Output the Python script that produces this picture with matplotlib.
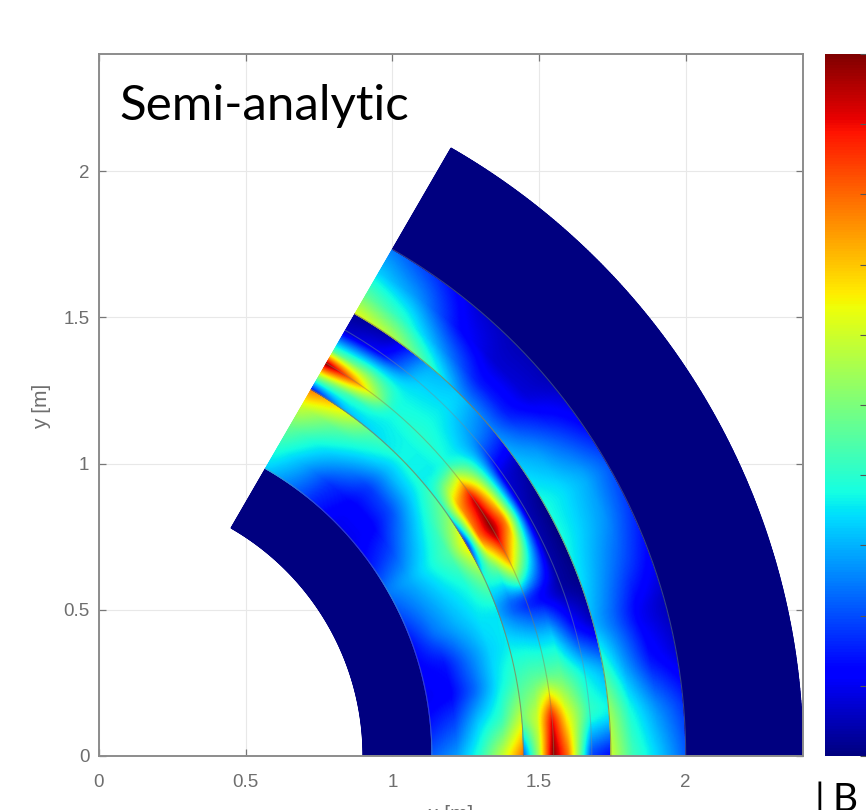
import matplotlib
matplotlib.use('Agg')
import matplotlib.pyplot as plt
import numpy as np

W, H = 866, 810

# field, as a fraction of the colour scale
radius = [1.135, 1.22, 1.30, 1.38, 1.447, 1.4475, 1.50, 1.55, 1.60, 1.68, 1.745, 1.7455, 1.82, 1.91, 2.0]
angle = [0, 5, 10, 15, 20, 25, 30, 35, 40, 45, 50, 55, 60]
field = [
    [.22, .28, .40, .60, .80, .20, .55, 1.0, .80, .18, .12, .60, .43, .33, .22],
    [.15, .20, .33, .42, .60, .50, .60, .90, .65, .42, .38, .55, .38, .27, .18],
    [.10, .12, .22, .35, .43, .43, .46, .47, .47, .36, .30, .42, .28, .14, .08],
    [.12, .14, .24, .33, .36, .36, .35, .33, .33, .14, .06, .30, .22, .10, .05],
    [.14, .24, .30, .35, .35, .28, .20, .14, .10, .03, .01, .35, .28, .20, .12],
    [.20, .27, .33, .38, .50, .40, .45, .70, .45, .04, .00, .38, .33, .27, .18],
    [.25, .30, .37, .45, .68, .12, .80, 1.0, .80, .05, .01, .38, .35, .30, .22],
    [.15, .20, .30, .40, .50, .40, .75, .92, .62, .08, .05, .32, .28, .20, .12],
    [.10, .12, .20, .32, .40, .36, .36, .38, .35, .26, .22, .25, .15, .08, .05],
    [.10, .12, .18, .30, .38, .37, .37, .40, .38, .35, .33, .27, .15, .07, .05],
    [.16, .18, .28, .38, .45, .34, .36, .38, .37, .33, .30, .42, .27, .13, .08],
    [.25, .30, .37, .47, .65, .30, .42, .72, .50, .12, .05, .57, .40, .27, .18],
    [.33, .40, .48, .60, .78, .12, .55, 1.0, .45, .06, .02, .63, .47, .33, .25],
]
interfaces = [1.135, 1.447, 1.55, 1.68, 1.745, 2.0]
xtick_vals = [0, 0.5, 1, 1.5, 2]
ytick_vals = [0, 0.5, 1, 1.5, 2]
tick_labels = ['0', '0.5', '1', '1.5', '2']
cbar_ticks = np.arange(0, 1.01, 0.1)

plt.rcParams['font.family'] = ['Liberation Sans', 'DejaVu Sans']
GREY = '#6e6e6e'


def fine_field():
    # iron parts stay at the bottom of the scale
    r_nodes = np.array([0.9, 1.1345] + radius + [2.0005, 2.4])
    values = np.array(field)
    values = np.hstack([np.zeros((len(angle), 2)), values, np.zeros((len(angle), 2))])
    r_fine = np.unique(np.concatenate([np.linspace(0.9, 2.4, 800), r_nodes]))
    t_fine = np.linspace(0, 60, 241)
    by_r = np.array([np.interp(r_fine, r_nodes, row) for row in values])
    out = np.array([np.interp(t_fine, angle, by_r[:, j]) for j in range(len(r_fine))])
    # soften the creases between the angle nodes
    kernel = np.ones(9) / 9
    for j in range(len(r_fine)):
        padded = np.pad(out[j], 4, mode='edge')
        out[j] = np.convolve(padded, kernel, mode='valid')
    return r_fine, t_fine, out


fig = plt.figure(figsize=(W / 100, H / 100), dpi=100)
ax = fig.add_axes([99 / W, 1 - 756 / H, (803 - 99) / W, (756 - 54) / H])

r_fine, t_fine, values = fine_field()
rr, tt = np.meshgrid(r_fine, np.radians(t_fine), indexing='ij')
mesh = ax.pcolormesh(rr * np.cos(tt), rr * np.sin(tt), values, cmap='jet', vmin=0, vmax=1,
                     shading='gouraud', zorder=2)

# thin layer outlines
arc = np.radians(np.linspace(0, 60, 200))
for r in interfaces:
    edge = '#8a7d50' if r in (1.447, 1.55, 1.745) else '#6f8f9a'
    alpha = 0.75 if r in (1.447, 1.745) else 0.45
    ax.plot(r * np.cos(arc), r * np.sin(arc), color=edge, lw=0.8, alpha=alpha, zorder=3)

ax.set_xlim(0, 2.4)
ax.set_ylim(0, 2.4)
ax.set_xticks(xtick_vals)
ax.set_yticks(ytick_vals)
ax.set_xticklabels(tick_labels)
ax.set_yticklabels(tick_labels)
ax.grid(True, color='#e8e8e8', lw=0.8, zorder=0)
ax.set_axisbelow(True)
ax.tick_params(direction='in', length=5, width=0.9, color='#777777', labelcolor=GREY,
               labelsize=13.5, top=True, right=True)
ax.tick_params(axis='x', pad=13)
ax.tick_params(axis='y', pad=7)
for spine in ax.spines.values():
    spine.set_color('#8c8c8c')
    spine.set_linewidth(1.4)

fig.text(42 / W, 1 - 406 / H, 'y [m]', rotation=90, ha='center', va='center', color=GREY, fontsize=15)
fig.text(451 / W, 1 - 815 / H, 'x [m]', ha='center', va='center', color=GREY, fontsize=15)

cax = fig.add_axes([825 / W, 1 - 756 / H, (W - 825) / W, (756 - 54) / H])
fig.colorbar(mesh, cax=cax)
cax.set_yticks(cbar_ticks)
cax.set_yticklabels([])
cax.tick_params(direction='in', length=4, width=0.8, color='#555555')
for spine in cax.spines.values():
    spine.set_visible(False)

fig.text(119 / W, 1 - 120 / H, 'Semi-analytic', family=['Lato', 'DejaVu Sans'], fontsize=35.5, color='black')
fig.text(815 / W, 1 - 811 / H, '|', family=['Lato', 'DejaVu Sans'], fontsize=28, color='black')
fig.text(832 / W, 1 - 811 / H, 'B', family=['Lato', 'DejaVu Sans'], fontsize=28, color='black')

fig.savefig('out.png', dpi=100)
